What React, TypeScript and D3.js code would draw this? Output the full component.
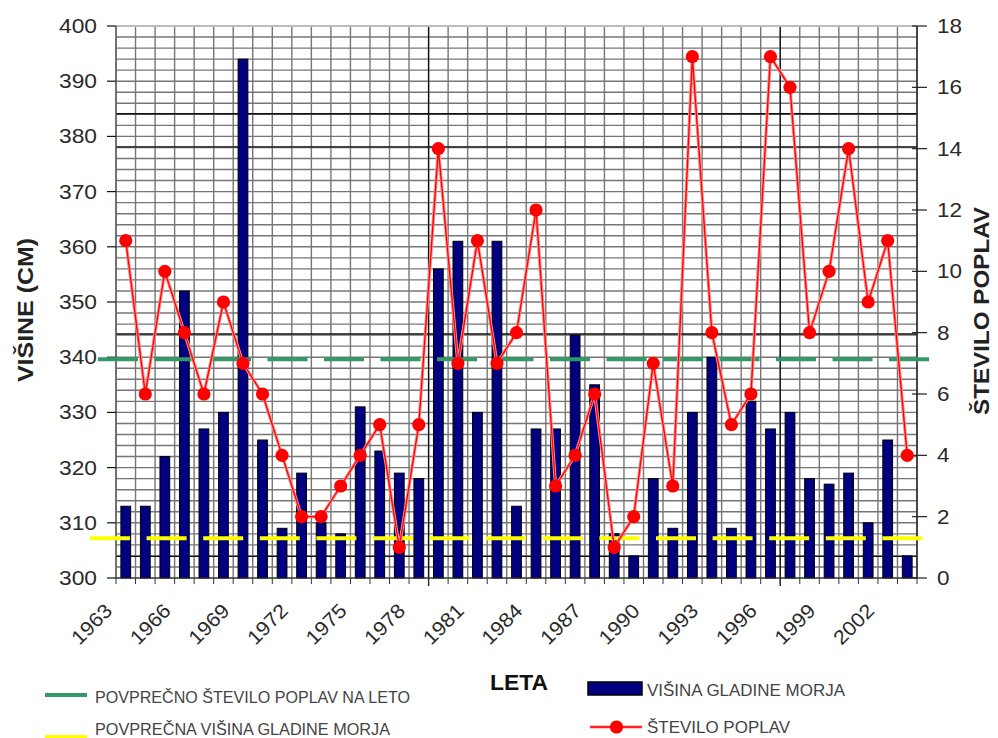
import React from "react";
import * as d3 from "d3";

const YEARS = [
  "1963","1964","1965","1966","1967","1968","1969","1970","1971","1972",
  "1973","1974","1975","1976","1977","1978","1979","1980","1981","1982",
  "1983","1984","1985","1986","1987","1988","1989","1990","1991","1992",
  "1993","1994","1995","1996","1997","1998","1999","2000","2001","2002","2003",
];
const SEA_LEVEL = [
  313, 313, 322, 352, 327, 330, 394, 325, 309, 319,
  310, 308, 331, 323, 319, 318, 356, 361, 330, 361,
  313, 327, 327, 344, 335, 308, 304, 318, 309, 330,
  340, 309, 332, 327, 330, 318, 317, 319, 310, 325, 304,
];
const FLOODS = [
  11, 6, 10, 8, 6, 9, 7, 6, 4, 2,
  2, 3, 4, 5, 1, 5, 14, 7, 11, 7,
  8, 12, 3, 4, 6, 1, 2, 7, 3, 17,
  8, 5, 6, 17, 16, 8, 10, 14, 9, 11, 4,
];
const TICK_YEARS = ["1963","1966","1969","1972","1975","1978","1981","1984","1987","1990","1993","1996","1999","2002"];
const LEFT_TICKS = [300, 310, 320, 330, 340, 350, 360, 370, 380, 390, 400];
const RIGHT_TICKS = [0, 2, 4, 6, 8, 10, 12, 14, 16, 18];
const AVG_FLOODS = 7.13;
const AVG_LEVEL = 307.2;
const MAJOR_H_CM = [303.9, 344.2, 378.1, 384.1];
const MAJOR_V_YEARS = ["1979", "1997"];

const L = 116, R = 917, T = 26, B = 578;

export default function App() {
  const x = d3.scaleBand<string>().domain(YEARS).range([L, R]).padding(0);
  const yL = d3.scaleLinear().domain([300, 400]).range([B, T]);
  const yR = d3.scaleLinear().domain([0, 18]).range([B, T]);
  const bw = x.bandwidth();
  const cx = (y: string) => (x(y) as number) + bw / 2;
  const boundaries = YEARS.map((y) => x(y) as number).concat([R]);
  const minorH = d3.range(300, 401, 2);

  const line = d3
    .line<number>()
    .x((_, i) => cx(YEARS[i]))
    .y((d) => yR(d));

  const font = "'Liberation Sans', Arial, sans-serif";
  const txt = "#2a2a2a";
  const gridC = "#767676";

  return (
    <div style={{ position: "fixed", left: 0, top: 0 }}>
      <svg width={998} height={738} style={{ display: "block", background: "#fff" }} fontFamily={font}>
        {/* graph paper grid */}
        {minorH.map((v) => (
          <line key={"h" + v} x1={L} x2={R} y1={yL(v)} y2={yL(v)} stroke={gridC} strokeWidth={1.4} />
        ))}
        {boundaries.map((bx, i) => (
          <line key={"v" + i} x1={bx} x2={bx} y1={T} y2={B} stroke={gridC} strokeWidth={1.4} />
        ))}
        {MAJOR_H_CM.map((v) => (
          <line key={"mh" + v} x1={L} x2={R} y1={yL(v)} y2={yL(v)} stroke="#111" strokeWidth={1.3} />
        ))}
        {MAJOR_V_YEARS.map((yr) => (
          <line key={"mv" + yr} x1={x(yr)} x2={x(yr)} y1={T} y2={B + 8} stroke="#111" strokeWidth={1.3} />
        ))}
        <line x1={L} x2={R} y1={T} y2={T} stroke="#bdbdbd" strokeWidth={2} />

        {/* bars */}
        {YEARS.map((yr, i) => (
          <rect
            key={"b" + yr}
            x={cx(yr) - bw * 0.25}
            width={bw * 0.5}
            y={yL(SEA_LEVEL[i])}
            height={B - yL(SEA_LEVEL[i])}
            fill="#000080"
            stroke="#000"
            strokeWidth={1}
          />
        ))}

        {/* axes */}
        <line x1={L} x2={R} y1={B} y2={B} stroke="#333" strokeWidth={1.2} />
        {boundaries.map((bx, i) => (
          <line key={"bt" + i} x1={bx} x2={bx} y1={B} y2={B + 6} stroke="#333" strokeWidth={1} />
        ))}
        <line x1={L} x2={L} y1={T} y2={B} stroke="#555" strokeWidth={1.2} />
        {LEFT_TICKS.map((v) => (
          <g key={"lt" + v}>
            <line x1={L - 9} x2={L} y1={yL(v)} y2={yL(v)} stroke="#111" strokeWidth={1.2} />
            <text x={97} y={yL(v) + 7} textAnchor="end" fontSize={20} fill={txt} textLength={38} lengthAdjust="spacingAndGlyphs">
              {v}
            </text>
          </g>
        ))}
        <line x1={R} x2={R} y1={T} y2={B} stroke="#222" strokeWidth={1.4} />
        {RIGHT_TICKS.map((v) => (
          <g key={"rt" + v}>
            <line x1={R - 5} x2={R + 10} y1={yR(v)} y2={yR(v)} stroke="#222" strokeWidth={1.2} />
            <text x={937} y={yR(v) + 7} fontSize={20} fill={txt} textLength={String(v).length * 12.5} lengthAdjust="spacingAndGlyphs">
              {v}
            </text>
          </g>
        ))}
        {TICK_YEARS.map((yr) => {
          const ax = (x(yr) as number) - 2.5;
          const ay = 612;
          return (
            <text
              key={"xl" + yr}
              x={ax}
              y={ay}
              transform={`rotate(-45 ${ax} ${ay})`}
              textAnchor="end"
              fontSize={20}
              fill={txt}
              textLength={48}
              lengthAdjust="spacingAndGlyphs"
            >
              {yr}
            </text>
          );
        })}

        {/* average lines */}
        <line x1={90} x2={924} y1={yL(AVG_LEVEL)} y2={yL(AVG_LEVEL)} stroke="#ffff00" strokeWidth={4} strokeDasharray="40 16.6" />
        <line x1={98} x2={931} y1={yR(AVG_FLOODS)} y2={yR(AVG_FLOODS)} stroke="#339966" strokeWidth={4} strokeDasharray="40 16.5" />

        {/* flood line */}
        <path d={line(FLOODS) || ""} fill="none" stroke="#ff8c8c" strokeWidth={3.2} />
        <path d={line(FLOODS) || ""} fill="none" stroke="#ff0000" strokeWidth={1.3} />
        {FLOODS.map((v, i) => (
          <circle key={"p" + i} cx={cx(YEARS[i])} cy={yR(v)} r={6.6} fill="#ff0000" />
        ))}

        {/* axis titles */}
        <text
          transform="translate(33,310) rotate(-90)"
          textAnchor="middle"
          fontSize={22}
          fontWeight="bold"
          fill="#222"
          textLength={144}
          lengthAdjust="spacingAndGlyphs"
        >
          VIŠINE (CM)
        </text>
        <text
          transform="translate(989,311) rotate(-90)"
          textAnchor="middle"
          fontSize={22}
          fontWeight="bold"
          fill="#222"
          textLength={208}
          lengthAdjust="spacingAndGlyphs"
        >
          ŠTEVILO POPLAV
        </text>
        <text x={519} y={690} textAnchor="middle" fontSize={22} fontWeight="bold" fill="#111" textLength={58} lengthAdjust="spacingAndGlyphs">
          LETA
        </text>

        {/* legend */}
        <line x1={45} x2={87} y1={695} y2={695} stroke="#339966" strokeWidth={4} />
        <text x={95} y={703} fontSize={17} fill="#444" textLength={315} lengthAdjust="spacingAndGlyphs">
          POVPREČNO ŠTEVILO POPLAV NA LETO
        </text>
        <line x1={45} x2={87} y1={737} y2={737} stroke="#ffff00" strokeWidth={4} />
        <text x={95} y={735} fontSize={17} fill="#444" textLength={295} lengthAdjust="spacingAndGlyphs">
          POVPREČNA VIŠINA GLADINE MORJA
        </text>
        <rect x={588} y={682} width={54} height={13} fill="#000080" stroke="#000" strokeWidth={1.5} />
        <text x={647} y={696} fontSize={17} fill="#444" textLength={198} lengthAdjust="spacingAndGlyphs">
          VIŠINA GLADINE MORJA
        </text>
        <line x1={590} x2={642} y1={727} y2={727} stroke="#ff8c8c" strokeWidth={3.2} />
        <line x1={590} x2={642} y1={727} y2={727} stroke="#ff0000" strokeWidth={1.3} />
        <circle cx={616.5} cy={727} r={6.6} fill="#ff0000" />
        <text x={647} y={733} fontSize={17} fill="#444" textLength={143} lengthAdjust="spacingAndGlyphs">
          ŠTEVILO POPLAV
        </text>
      </svg>
    </div>
  );
}
